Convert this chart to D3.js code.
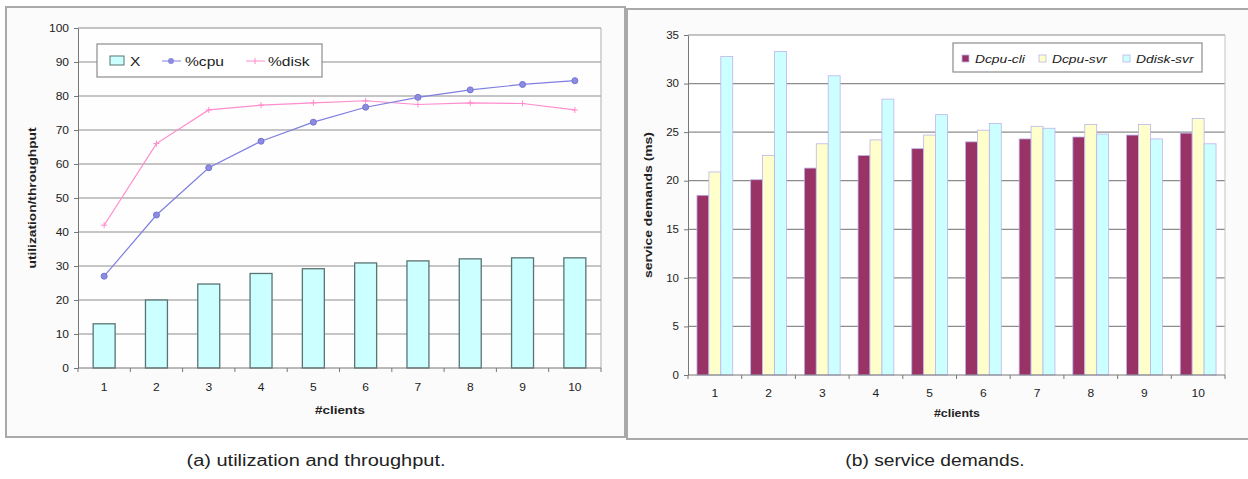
<!DOCTYPE html>
<html>
<head>
<meta charset="utf-8">
<script src="https://cdn.jsdelivr.net/npm/d3@7"></script>
<style>
  body { margin: 0; background: #fff; }
  text { font-family: "Liberation Sans", Arial, sans-serif; fill: #222; }
</style>
</head>
<body>
<script>
// data
const clients = [1, 2, 3, 4, 5, 6, 7, 8, 9, 10];
const throughputX = [13, 20, 24.7, 27.8, 29.2, 30.9, 31.5, 32.1, 32.4, 32.4];
const cpuUtil = [27, 45, 58.9, 66.7, 72.3, 76.7, 79.6, 81.8, 83.4, 84.5];
const diskUtil = [42, 66, 75.9, 77.3, 78, 78.6, 77.5, 78, 77.8, 75.9];
const yTicksA = [0, 10, 20, 30, 40, 50, 60, 70, 80, 90, 100];

const dcpuCli = [18.5, 20.1, 21.3, 22.6, 23.3, 24.0, 24.3, 24.5, 24.7, 24.9];
const dcpuSvr = [20.9, 22.6, 23.8, 24.2, 24.7, 25.2, 25.6, 25.8, 25.8, 26.4];
const ddiskSvr = [32.8, 33.3, 30.8, 28.4, 26.8, 25.9, 25.4, 24.8, 24.3, 23.8];
const seriesB = ['Dcpu-cli', 'Dcpu-svr', 'Ddisk-svr'];
const yTicksB = [0, 5, 10, 15, 20, 25, 30, 35];

const svg = d3.select('body').append('svg')
  .attr('width', 1248).attr('height', 479);

// widen text a bit, the source image is stretched horizontally
function stretch(sel, k) {
  sel.each(function () {
    const w = this.getComputedTextLength();
    d3.select(this).attr('textLength', w * k).attr('lengthAdjust', 'spacingAndGlyphs');
  });
}

// ---------- frames ----------
svg.append('rect').attr('x', 6).attr('y', 7).attr('width', 619).attr('height', 430)
  .attr('fill', '#fbfbfb').attr('stroke', '#a9a9a9').attr('stroke-width', 2);
svg.append('rect').attr('x', 627).attr('y', 9).attr('width', 630).attr('height', 430)
  .attr('fill', '#fbfbfb').attr('stroke', '#a9a9a9').attr('stroke-width', 2);

// ---------- chart (a) ----------
const gA = svg.append('g');
const xA = d3.scaleBand().domain(clients).range([78, 601]);
const yA = d3.scaleLinear().domain([0, 100]).range([368, 28]);

gA.append('rect').attr('x', 78).attr('y', 28).attr('width', 523).attr('height', 340).attr('fill', '#fefefe');

gA.selectAll('.grid').data(yTicksA.slice(1)).join('line')
  .attr('x1', 78).attr('x2', 601)
  .attr('y1', d => yA(d)).attr('y2', d => yA(d))
  .attr('stroke', '#8c8c8c').attr('stroke-width', 1.2);
gA.append('line').attr('x1', 601).attr('x2', 601).attr('y1', 28).attr('y2', 368)
  .attr('stroke', '#b0b0b0');

gA.selectAll('.bar').data(throughputX).join('rect')
  .attr('x', (d, i) => xA(clients[i]) + xA.bandwidth() * 0.29)
  .attr('width', xA.bandwidth() * 0.42)
  .attr('y', d => yA(d))
  .attr('height', d => yA(0) - yA(d))
  .attr('fill', '#ccffff').attr('stroke', '#5a7474').attr('stroke-width', 1.3);

const axA = gA.append('g').attr('transform', 'translate(78,0)')
  .call(d3.axisLeft(yA).tickValues(yTicksA).tickSize(4).tickSizeOuter(0).tickPadding(5));
axA.selectAll('path, line').attr('stroke', '#777');
axA.selectAll('text').attr('font-size', 10).attr('fill', '#222').call(stretch, 1.2);

gA.append('line').attr('x1', 78).attr('x2', 601).attr('y1', 368).attr('y2', 368).attr('stroke', '#777');
gA.selectAll('.xt').data(d3.range(11)).join('line')
  .attr('x1', d => 78 + d * xA.step()).attr('x2', d => 78 + d * xA.step())
  .attr('y1', 368).attr('y2', 372).attr('stroke', '#777');
gA.selectAll('.xl').data(clients).join('text')
  .attr('x', d => xA(d) + xA.bandwidth() / 2).attr('y', 391)
  .attr('text-anchor', 'middle').attr('font-size', 10).text(d => d)
  .call(stretch, 1.2);

const lineA = (vals) => d3.line()
  .x((d, i) => xA(clients[i]) + xA.bandwidth() / 2)
  .y(d => yA(d))(vals);

gA.append('path').attr('d', lineA(diskUtil)).attr('fill', 'none')
  .attr('stroke', '#ff8ccc').attr('stroke-width', 1.2);
gA.selectAll('.dm').data(diskUtil).join('path')
  .attr('transform', (d, i) => `translate(${xA(clients[i]) + xA.bandwidth() / 2},${yA(d)})`)
  .attr('d', 'M-3,0H3M0,-3V3').attr('stroke', '#ff8ccc').attr('stroke-width', 1);

gA.append('path').attr('d', lineA(cpuUtil)).attr('fill', 'none')
  .attr('stroke', '#7f7fe0').attr('stroke-width', 1.2);
gA.selectAll('.cm').data(cpuUtil).join('circle')
  .attr('cx', (d, i) => xA(clients[i]) + xA.bandwidth() / 2)
  .attr('cy', d => yA(d)).attr('r', 3)
  .attr('fill', '#8c8ce0').attr('stroke', '#7474d4');

// legend (a)
const lgA = gA.append('g');
lgA.append('rect').attr('x', 97).attr('y', 44).attr('width', 225).attr('height', 33)
  .attr('fill', '#fff').attr('stroke', '#8c8c8c').attr('stroke-width', 1.2);
lgA.append('rect').attr('x', 110).attr('y', 56).attr('width', 14).attr('height', 9)
  .attr('fill', '#ccffff').attr('stroke', '#5a7474');
lgA.append('text').attr('x', 130).attr('y', 66).attr('font-size', 13).text('X').call(stretch, 1.2);
lgA.append('line').attr('x1', 162).attr('x2', 181).attr('y1', 61).attr('y2', 61).attr('stroke', '#7f7fe0');
lgA.append('circle').attr('cx', 171).attr('cy', 61).attr('r', 3).attr('fill', '#8c8ce0');
lgA.append('text').attr('x', 185).attr('y', 66).attr('font-size', 13).text('%cpu').call(stretch, 1.2);
lgA.append('line').attr('x1', 246).attr('x2', 265).attr('y1', 61).attr('y2', 61).attr('stroke', '#ff8ccc');
lgA.append('path').attr('d', 'M255,58V64').attr('stroke', '#ff8ccc');
lgA.append('text').attr('x', 268).attr('y', 66).attr('font-size', 13).text('%disk').call(stretch, 1.2);

gA.append('text').attr('transform', 'translate(36,198) rotate(-90)')
  .attr('text-anchor', 'middle').attr('font-size', 10).attr('font-weight', 'bold')
  .attr('textLength', 141).attr('lengthAdjust', 'spacingAndGlyphs')
  .text('utilization/throughput');
gA.append('text').attr('x', 340).attr('y', 414).attr('text-anchor', 'middle')
  .attr('font-size', 10).attr('font-weight', 'bold')
  .attr('textLength', 50).attr('lengthAdjust', 'spacingAndGlyphs').text('#clients');

// ---------- chart (b) ----------
const gB = svg.append('g');
const xB = d3.scaleBand().domain(clients).range([688, 1225]).paddingInner(1 / 3).paddingOuter(1 / 6);
const xSub = d3.scaleBand().domain(seriesB).range([0, xB.bandwidth()]);
const yB = d3.scaleLinear().domain([0, 35]).range([375, 35]);
const colorB = d3.scaleOrdinal().domain(seriesB).range(['#993366', '#ffffcc', '#ccffff']);

gB.append('rect').attr('x', 688).attr('y', 35).attr('width', 537).attr('height', 340).attr('fill', '#fff');
gB.selectAll('.grid').data(yTicksB.slice(1)).join('line')
  .attr('x1', 688).attr('x2', 1225)
  .attr('y1', d => yB(d)).attr('y2', d => yB(d))
  .attr('stroke', '#8c8c8c').attr('stroke-width', 1.2);
gB.append('line').attr('x1', 1225).attr('x2', 1225).attr('y1', 35).attr('y2', 375)
  .attr('stroke', '#c4c4c4');

const rowsB = clients.map((c, i) => ({
  c, vals: [dcpuCli[i], dcpuSvr[i], ddiskSvr[i]]
}));
gB.selectAll('.grp').data(rowsB).join('g')
  .attr('transform', d => `translate(${xB(d.c)},0)`)
  .selectAll('rect').data(d => d.vals.map((v, j) => ({ s: seriesB[j], v })))
  .join('rect')
  .attr('x', d => xSub(d.s)).attr('width', xSub.bandwidth())
  .attr('y', d => yB(d.v)).attr('height', d => yB(0) - yB(d.v))
  .attr('fill', d => colorB(d.s)).attr('stroke', '#bdb4ea').attr('stroke-width', 0.8);

const axB = gB.append('g').attr('transform', 'translate(688,0)')
  .call(d3.axisLeft(yB).tickValues(yTicksB).tickSize(4).tickSizeOuter(0).tickPadding(5));
axB.selectAll('path, line').attr('stroke', '#777');
axB.selectAll('text').attr('font-size', 10).attr('fill', '#222').call(stretch, 1.15);

gB.append('line').attr('x1', 688).attr('x2', 1225).attr('y1', 375).attr('y2', 375).attr('stroke', '#777');
gB.selectAll('.xt').data(d3.range(11)).join('line')
  .attr('x1', d => 688 + d * xB.step()).attr('x2', d => 688 + d * xB.step())
  .attr('y1', 375).attr('y2', 379).attr('stroke', '#777');
gB.selectAll('.xl').data(clients).join('text')
  .attr('x', d => xB(d) + xB.bandwidth() / 2).attr('y', 397)
  .attr('text-anchor', 'middle').attr('font-size', 10).text(d => d)
  .call(stretch, 1.2);

// legend (b)
const lgB = gB.append('g');
lgB.append('rect').attr('x', 953).attr('y', 43).attr('width', 249).attr('height', 29)
  .attr('fill', '#fff').attr('stroke', '#8c8c8c').attr('stroke-width', 1.2);
const legX = [962, 1039, 1123];
seriesB.forEach((s, j) => {
  lgB.append('rect').attr('x', legX[j]).attr('y', 55).attr('width', 7).attr('height', 7)
    .attr('fill', colorB(s)).attr('stroke', '#bdb4ea').attr('stroke-width', 0.8);
  lgB.append('text').attr('x', legX[j] + 13).attr('y', 63).attr('font-size', 11.5)
    .attr('font-style', 'italic').text(s).call(stretch, 1.2);
});

gB.append('text').attr('transform', 'translate(652,205) rotate(-90)')
  .attr('text-anchor', 'middle').attr('font-size', 10).attr('font-weight', 'bold')
  .attr('textLength', 146).attr('lengthAdjust', 'spacingAndGlyphs')
  .text('service demands (ms)');
gB.append('text').attr('x', 957).attr('y', 417).attr('text-anchor', 'middle')
  .attr('font-size', 10).attr('font-weight', 'bold')
  .attr('textLength', 46).attr('lengthAdjust', 'spacingAndGlyphs').text('#clients');

// ---------- captions ----------
svg.append('text').attr('x', 316).attr('y', 466).attr('text-anchor', 'middle')
  .attr('font-size', 16).attr('fill', '#111').text('(a) utilization and throughput.')
  .call(stretch, 1.25);
svg.append('text').attr('x', 935).attr('y', 466).attr('text-anchor', 'middle')
  .attr('font-size', 16).attr('fill', '#111').text('(b) service demands.')
  .call(stretch, 1.2);
</script>
</body>
</html>
